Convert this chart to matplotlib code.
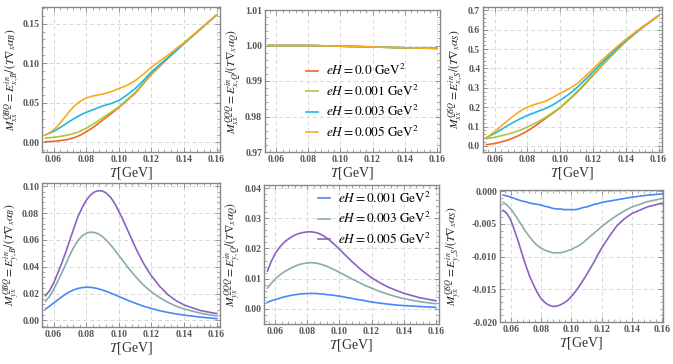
import numpy as np
import matplotlib
matplotlib.use("Agg")
import matplotlib.pyplot as plt
from matplotlib.ticker import MultipleLocator, FormatStrFormatter

plt.rcParams['font.family'] = ['Liberation Serif', 'DejaVu Serif']
plt.rcParams['mathtext.fontset'] = 'stix'

# temperature grid (GeV)
T = [0.055, 0.0575, 0.06, 0.0625, 0.065, 0.0675, 0.07, 0.0725, 0.075, 0.0775,
     0.08, 0.0825, 0.085, 0.0875, 0.09, 0.0925, 0.095, 0.0975, 0.10, 0.1025,
     0.105, 0.1075, 0.11, 0.1125, 0.115, 0.1175, 0.12, 0.125, 0.13, 0.135,
     0.14, 0.15, 0.16]
T_flat = [0.055, 0.08, 0.10, 0.12, 0.14, 0.16]

eH_top = ["0.0", "0.001", "0.003", "0.005"]
eH_bot = ["0.001", "0.003", "0.005"]

# M_xx^QBQ
xxB_0 = [0.001, 0.0012, 0.0015, 0.002, 0.0026, 0.0034, 0.0045, 0.006, 0.008, 0.0105, 0.0135, 0.0167, 0.020, 0.024, 0.028, 0.032, 0.036, 0.040, 0.044, 0.0485, 0.053, 0.0575, 0.062, 0.068, 0.074, 0.080, 0.086, 0.096, 0.106, 0.1155, 0.125, 0.143, 0.161]
xxB_1 = [0.0055, 0.006, 0.0065, 0.0072, 0.008, 0.009, 0.010, 0.0115, 0.013, 0.0155, 0.018, 0.021, 0.024, 0.0275, 0.031, 0.0345, 0.038, 0.0415, 0.045, 0.0495, 0.054, 0.0585, 0.063, 0.069, 0.075, 0.081, 0.087, 0.0965, 0.106, 0.1155, 0.125, 0.143, 0.161]
xxB_3 = [0.0095, 0.0118, 0.014, 0.017, 0.020, 0.0235, 0.027, 0.030, 0.033, 0.0357, 0.038, 0.040, 0.042, 0.044, 0.046, 0.0475, 0.049, 0.051, 0.053, 0.0563, 0.060, 0.064, 0.068, 0.073, 0.078, 0.0835, 0.089, 0.098, 0.107, 0.116, 0.125, 0.143, 0.161]
xxB_5 = [0.0095, 0.0125, 0.016, 0.021, 0.027, 0.0335, 0.040, 0.0455, 0.050, 0.0535, 0.056, 0.0578, 0.059, 0.060, 0.061, 0.0625, 0.064, 0.066, 0.068, 0.070, 0.072, 0.075, 0.078, 0.082, 0.086, 0.0905, 0.095, 0.1025, 0.110, 0.118, 0.126, 0.1435, 0.161]

# M_xx^QQQ
xxQ_0 = [1.0, 1.0, 0.9998, 0.9996, 0.99935, 0.9992]
xxQ_1 = [1.0, 1.0, 0.9998, 0.9996, 0.99935, 0.9992]
xxQ_3 = [1.0, 1.0, 0.9998, 0.9996, 0.99935, 0.9992]
xxQ_5 = [1.0, 1.0, 0.9998, 0.9996, 0.99935, 0.9992]

# M_xx^QSQ
xxS_0 = [0.007, 0.0095, 0.013, 0.0175, 0.023, 0.0295, 0.037, 0.0455, 0.055, 0.066, 0.078, 0.091, 0.105, 0.120, 0.136, 0.151, 0.166, 0.182, 0.198, 0.216, 0.235, 0.255, 0.275, 0.296, 0.318, 0.341, 0.365, 0.411, 0.455, 0.498, 0.540, 0.610, 0.672]
xxS_1 = [0.038, 0.041, 0.045, 0.050, 0.055, 0.060, 0.066, 0.073, 0.080, 0.089, 0.098, 0.108, 0.118, 0.130, 0.142, 0.156, 0.170, 0.185, 0.200, 0.219, 0.238, 0.258, 0.279, 0.300, 0.322, 0.345, 0.368, 0.413, 0.457, 0.499, 0.541, 0.611, 0.672]
xxS_3 = [0.043, 0.054, 0.065, 0.077, 0.090, 0.103, 0.115, 0.127, 0.138, 0.148, 0.158, 0.166, 0.174, 0.182, 0.190, 0.199, 0.210, 0.222, 0.236, 0.250, 0.265, 0.282, 0.300, 0.320, 0.340, 0.361, 0.383, 0.426, 0.467, 0.507, 0.545, 0.612, 0.672]
xxS_5 = [0.043, 0.058, 0.075, 0.092, 0.110, 0.128, 0.145, 0.162, 0.177, 0.190, 0.200, 0.208, 0.216, 0.222, 0.228, 0.237, 0.248, 0.260, 0.272, 0.282, 0.293, 0.306, 0.320, 0.338, 0.357, 0.377, 0.398, 0.439, 0.478, 0.515, 0.550, 0.614, 0.672]

# M_yx^QBQ
yxB_1 = [0.0084, 0.0105, 0.0129, 0.0152, 0.0175, 0.0196, 0.0214, 0.0228, 0.0238, 0.0244, 0.0247, 0.0246, 0.0242, 0.0235, 0.0226, 0.0215, 0.0203, 0.0191, 0.0178, 0.0165, 0.0152, 0.0140, 0.0128, 0.0117, 0.0106, 0.0097, 0.0088, 0.0072, 0.0059, 0.0048, 0.0039, 0.0024, 0.0012]
yxB_3 = [0.0142, 0.0178, 0.0229, 0.029, 0.0353, 0.042, 0.0488, 0.0548, 0.0597, 0.0630, 0.0650, 0.0658, 0.0656, 0.0645, 0.0625, 0.0597, 0.0563, 0.0525, 0.0485, 0.0445, 0.0405, 0.0367, 0.0331, 0.0297, 0.0266, 0.0238, 0.0213, 0.0170, 0.0135, 0.0107, 0.0085, 0.0053, 0.0032]
yxB_5 = [0.0184, 0.022, 0.0278, 0.035, 0.0427, 0.051, 0.060, 0.069, 0.0775, 0.084, 0.0895, 0.0933, 0.0958, 0.0968, 0.0965, 0.0948, 0.0918, 0.0872, 0.0815, 0.0752, 0.0685, 0.0617, 0.0550, 0.0488, 0.0430, 0.0378, 0.0332, 0.0255, 0.0193, 0.0148, 0.0115, 0.0073, 0.0050]

# M_yx^QQQ
yxQ_1 = [0.0022, 0.0027, 0.0031, 0.0035, 0.0039, 0.0042, 0.0045, 0.0047, 0.0049, 0.0050, 0.0051, 0.0051, 0.0051, 0.0050, 0.0049, 0.0047, 0.0046, 0.0044, 0.0042, 0.0040, 0.0037, 0.0035, 0.0032, 0.0030, 0.0028, 0.0025, 0.0023, 0.0019, 0.0016, 0.0013, 0.0011, 0.0008, 0.0005]
yxQ_3 = [0.0069, 0.0085, 0.0099, 0.0111, 0.0121, 0.0129, 0.0136, 0.0142, 0.0147, 0.0150, 0.0152, 0.0153, 0.0152, 0.0149, 0.0145, 0.0140, 0.0134, 0.0128, 0.0121, 0.0114, 0.0107, 0.0100, 0.0093, 0.0087, 0.0080, 0.0074, 0.0069, 0.0058, 0.0049, 0.0041, 0.0034, 0.0024, 0.0017]
yxQ_5 = [0.0125, 0.0158, 0.0184, 0.0203, 0.0218, 0.0229, 0.0238, 0.0245, 0.0250, 0.0253, 0.0255, 0.0255, 0.0253, 0.0249, 0.0242, 0.0233, 0.0222, 0.0210, 0.0197, 0.0184, 0.0171, 0.0158, 0.0146, 0.0134, 0.0123, 0.0113, 0.0103, 0.0087, 0.0073, 0.0062, 0.0052, 0.0037, 0.0027]

# M_yx^QSQ
yxS_1 = [-0.0006, -0.0007, -0.0009, -0.0011, -0.0013, -0.0015, -0.0016, -0.0018, -0.0019, -0.0020, -0.0021, -0.0023, -0.0024, -0.0026, -0.0027, -0.0027, -0.0028, -0.0028, -0.0028, -0.0028, -0.0027, -0.0025, -0.0024, -0.0022, -0.0020, -0.0019, -0.0017, -0.0015, -0.0013, -0.0011, -0.0009, -0.0006, -0.0004]
yxS_3 = [-0.0017, -0.0021, -0.0027, -0.0035, -0.0044, -0.0053, -0.0062, -0.0070, -0.0077, -0.0083, -0.0087, -0.0090, -0.0092, -0.0094, -0.0094, -0.0094, -0.0093, -0.0091, -0.0089, -0.0086, -0.0083, -0.0079, -0.0074, -0.0069, -0.0064, -0.0059, -0.0054, -0.0045, -0.0037, -0.0030, -0.0024, -0.0016, -0.0011]
yxS_5 = [-0.0029, -0.0034, -0.0044, -0.0060, -0.0077, -0.0096, -0.0114, -0.0130, -0.0143, -0.0155, -0.0164, -0.0170, -0.0174, -0.0176, -0.0176, -0.0174, -0.0171, -0.0167, -0.0161, -0.0154, -0.0146, -0.0137, -0.0128, -0.0118, -0.0108, -0.0097, -0.0087, -0.0069, -0.0053, -0.0042, -0.0034, -0.0024, -0.0018]

top_colors = ['#F26430', '#A8C83C', '#22B5E0', '#FBAA1E']
bot_colors = ['#4A86F7', '#88ACA8', '#8B62C0']

W, H = 673, 364
fig = plt.figure(figsize=(W / 100, H / 100), dpi=100)


def make_ax(l, r, t, b):
    return fig.add_axes([l / W, 1 - b / H, (r - l) / W, (b - t) / H])


def style(ax, ylim, ymaj, ymin, fmt, ylabel, lab_px, l, r, xlim=(0.0529, 0.1621)):
    ax.set_xlim(*xlim)
    ax.set_ylim(*ylim)
    ax.xaxis.set_major_locator(MultipleLocator(0.02))
    ax.xaxis.set_minor_locator(MultipleLocator(0.004))
    ax.yaxis.set_major_locator(MultipleLocator(ymaj))
    ax.yaxis.set_minor_locator(MultipleLocator(ymin))
    ax.xaxis.set_major_formatter(FormatStrFormatter('%.2f'))
    ax.yaxis.set_major_formatter(FormatStrFormatter(fmt))
    ax.grid(True, which='major', color='#d8d8d8', linestyle=(0, (4, 3)), linewidth=0.7)
    ax.tick_params(which='both', direction='in', top=True, right=True, color='#888888',
                   labelsize=7, labelcolor='#555555', pad=2)
    ax.tick_params(which='major', length=3.5, width=0.6)
    ax.tick_params(which='minor', length=2, width=0.5)
    for lab in ax.get_xticklabels() + ax.get_yticklabels():
        lab.set_fontweight('bold')
    for s in ax.spines.values():
        s.set_color('#888888')
        s.set_linewidth(1.0)
    ax.set_ylabel(ylabel, fontsize=8.4, color='#222222')
    # lab_px = right edge of the rotated label, in figure pixels
    ax.yaxis.set_label_coords((lab_px - l) / (r - l), 0.5)
    ax.set_xlabel('$T$[GeV]', fontsize=10, color='#333333', labelpad=1)


def eh_label(e):
    return r'$eH = ' + e + r'\ \mathrm{GeV}^2$'


# top row
ax1 = make_ax(42, 220, 7, 152)
for y, c in zip([xxB_0, xxB_1, xxB_3, xxB_5], top_colors):
    ax1.plot(T, y, color=c, lw=1.2)
style(ax1, (-0.012, 0.171), 0.05, 0.01, '%.2f',
      r'$M_{xx}^{QBQ}=E_{x,B}^{in}/(T\nabla_x\alpha_B)$', 22, 42, 220)

ax2 = make_ax(265, 440, 10, 152)
for y, c, e in zip([xxQ_0, xxQ_1, xxQ_3, xxQ_5], top_colors, eH_top):
    ax2.plot(T_flat, y, color=c, lw=1.2, label=eh_label(e))
style(ax2, (0.97, 1.01), 0.01, 0.002, '%.2f',
      r'$M_{xx}^{QQQ}=E_{x,Q}^{in}/(T\nabla_x\alpha_Q)$', 244, 265, 440)
ax2.legend(loc='lower left', bbox_to_anchor=(0.205, 0.05), borderaxespad=0,
           frameon=False, fontsize=9.5, handlelength=0.9, handletextpad=0.6,
           labelspacing=0.4)

ax3 = make_ax(483, 662, 7, 152)
for y, c in zip([xxS_0, xxS_1, xxS_3, xxS_5], top_colors):
    ax3.plot(T, y, color=c, lw=1.2)
style(ax3, (-0.031, 0.717), 0.1, 0.02, '%.1f',
      r'$M_{xx}^{QSQ}=E_{x,S}^{in}/(T\nabla_x\alpha_S)$', 466, 483, 662)

# bottom row
ax4 = make_ax(42, 220, 183, 327)
for y, c in zip([yxB_1, yxB_3, yxB_5], bot_colors):
    ax4.plot(T, y, color=c, lw=1.2)
style(ax4, (-0.005, 0.1025), 0.02, 0.004, '%.2f',
      r'$M_{yx}^{QBQ}=E_{y,B}^{in}/(T\nabla_x\alpha_B)$', 22, 42, 220)

ax5 = make_ax(264, 439, 185, 324)
for y, c, e in zip([yxQ_1, yxQ_3, yxQ_5], bot_colors, eH_bot):
    ax5.plot(T, y, color=c, lw=1.2, label=eh_label(e))
style(ax5, (-0.005, 0.041), 0.01, 0.002, '%.2f',
      r'$M_{yx}^{QQQ}=E_{y,Q}^{in}/(T\nabla_x\alpha_Q)$', 243, 264, 439)
ax5.legend(loc='upper right', bbox_to_anchor=(0.985, 0.995), borderaxespad=0,
           frameon=False, fontsize=9.5, handlelength=0.9, handletextpad=0.6,
           labelspacing=0.4)

ax6 = make_ax(500, 663, 190, 322)
for y, c in zip([yxS_1, yxS_3, yxS_5], bot_colors):
    ax6.plot(T, y, color=c, lw=1.2)
style(ax6, (-0.0200, 0.0002), 0.005, 0.001, '%.3f',
      r'$M_{yx}^{QSQ}=E_{y,S}^{in}/(T\nabla_x\alpha_S)$', 464, 500, 663,
      xlim=(0.0529, 0.1605))

fig.savefig('out.png', dpi=100)
